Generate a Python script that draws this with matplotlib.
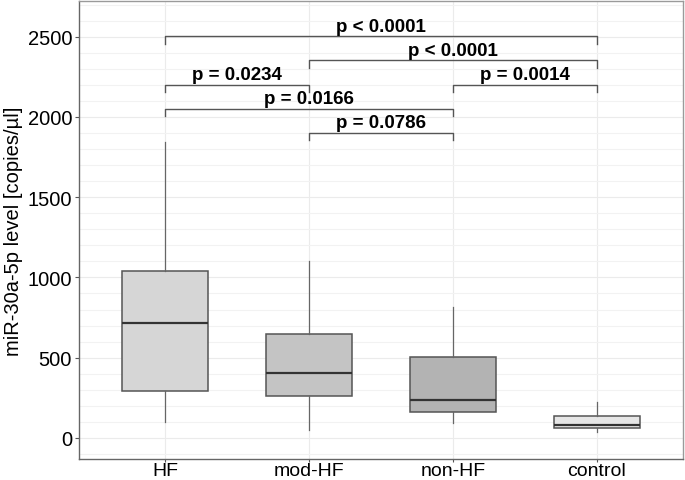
######################################
# Libraries
######################################

import matplotlib
matplotlib.use("Agg")
import matplotlib.pyplot as plt
from matplotlib.ticker import MultipleLocator

plt.rcParams['font.family'] = ['Liberation Sans', 'DejaVu Sans']

######################################
# Data
######################################

groups = ["HF", "mod-HF", "non-HF", "control"]
whisker_low = [97, 52, 93, 35]
q1 = [295, 264, 159, 64]
median = [718, 407, 237, 80]
q3 = [1042, 648, 505, 135]
whisker_high = [1845, 1100, 815, 222]
fills = ["#d6d6d6", "#c4c4c4", "#b3b3b3", "#e6e6e6"]

# comparisons: (group a, group b, bracket height, label)
comp_a = [0, 1, 0, 2, 0, 1]
comp_b = [3, 3, 1, 3, 2, 2]
comp_y = [2502, 2352, 2201, 2201, 2051, 1900]
comp_label = ["p < 0.0001", "p < 0.0001", "p = 0.0234", "p = 0.0014",
              "p = 0.0166", "p = 0.0786"]

######################################
# Figure
######################################

fig = plt.figure(figsize=(6.85, 4.81), dpi=100)
ax = fig.add_axes([0.1153, 0.0437, 0.8817, 0.9521])

stats = []
for i in range(len(groups)):
    stats.append({"whislo": whisker_low[i], "q1": q1[i], "med": median[i],
                  "q3": q3[i], "whishi": whisker_high[i], "fliers": []})

positions = list(range(1, len(groups) + 1))
bp = ax.bxp(stats, positions=positions, widths=0.6, patch_artist=True,
            showcaps=False,
            boxprops=dict(edgecolor="#555555", linewidth=1.1),
            medianprops=dict(color="#333333", linewidth=1.6),
            whiskerprops=dict(color="#666666", linewidth=0.9),
            zorder=3)
for patch, c in zip(bp["boxes"], fills):
    patch.set_facecolor(c)

######################################
# Significance brackets
######################################

tip = 46
for a, b, y, lab in zip(comp_a, comp_b, comp_y, comp_label):
    xa = positions[a]
    xb = positions[b]
    ax.plot([xa, xa, xb, xb], [y - tip, y, y, y - tip], color="#555555",
            linewidth=1.0, zorder=4)
    ax.text((xa + xb) / 2, y + 10, lab, ha="center", va="bottom",
            fontsize=13.5, fontweight="bold", color="black", zorder=5)

######################################
# Axes styling
######################################

ax.set_xlim(0.4, 4.6)
ax.set_ylim(-131, 2722)
ax.set_xticks(positions)
ax.set_xticklabels(groups, fontsize=14)
ax.yaxis.set_major_locator(MultipleLocator(500))
ax.yaxis.set_minor_locator(MultipleLocator(100))
ax.tick_params(axis="y", labelsize=14.5, length=3, color="#555555", pad=2)
ax.tick_params(axis="y", which="minor", length=0)
ax.tick_params(axis="x", length=2.5, color="#555555", pad=0)
ax.set_ylabel("miR-30a-5p level [copies/µl]", fontsize=14.5, labelpad=3)

ax.grid(True, which="major", axis="both", color="#ebebeb", linewidth=0.8)
ax.grid(True, which="minor", axis="y", color="#f2f2f2", linewidth=0.8)
ax.set_axisbelow(True)

for side in ["top", "right"]:
    ax.spines[side].set_color("#9a9a9a")
for side in ["left", "bottom"]:
    ax.spines[side].set_color("#666666")
for s in ax.spines.values():
    s.set_linewidth(1.0)

fig.savefig("out.png", dpi=100)
